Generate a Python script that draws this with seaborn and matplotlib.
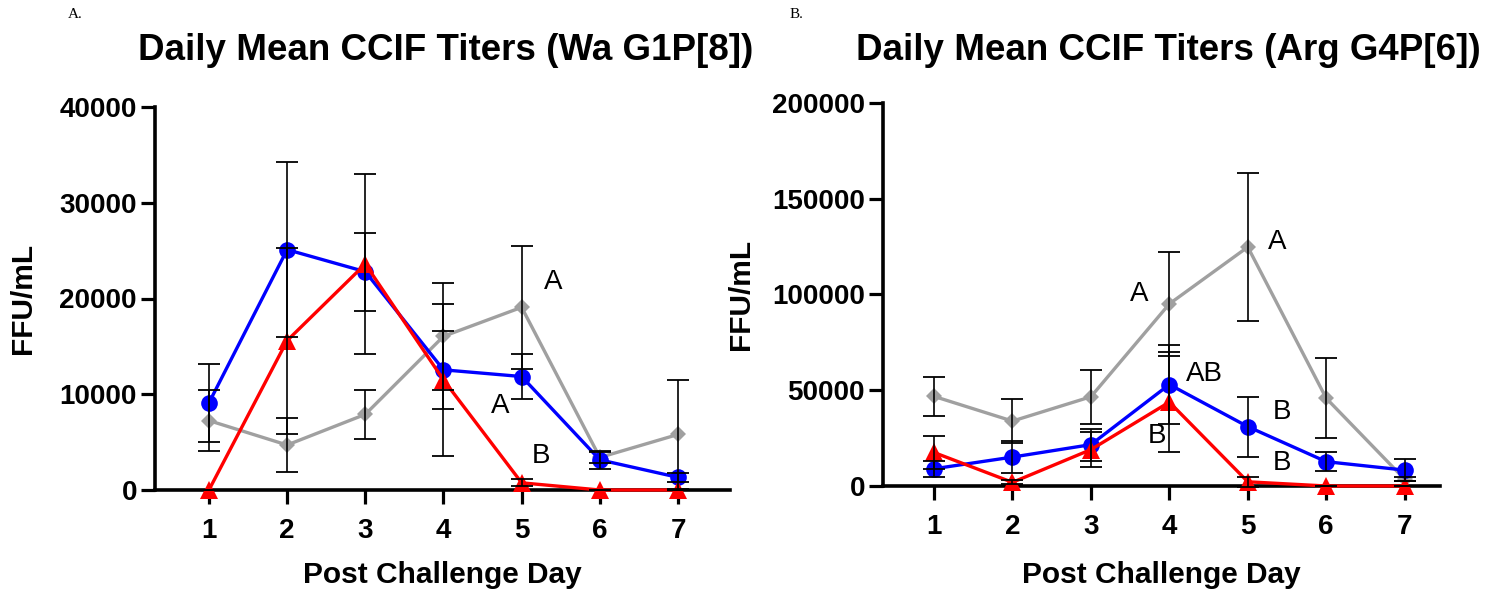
import matplotlib
matplotlib.use("Agg")
import matplotlib.pyplot as plt
import pandas as pd
import seaborn as sns

# ---- data -------------------------------------------------------------
days = [1, 2, 3, 4, 5, 6, 7]

# Wa G1P[8]
wa_circle_mean = [9100, 25100, 22800, 12550, 11850, 3150, 1320]
wa_circle_sem = [4100, 9150, 4070, 4090, 2340, 950, 500]
wa_triangle_mean = [0, 15600, 23600, 11500, 750, 0, 0]
wa_triangle_sem = [0, 9700, 9440, 7920, 350, 0, 0]
wa_diamond_mean = [7250, 4700, 7900, 16050, 19080, 3400, 5800]
wa_diamond_sem = [3170, 2800, 2570, 5600, 6440, 600, 5700]

# Arg G4P[6]
arg_circle_mean = [9000, 15100, 21600, 53000, 31000, 12700, 8300]
arg_circle_sem = [4200, 8500, 8400, 20500, 15700, 4800, 5600]
arg_triangle_mean = [17500, 1900, 19000, 43800, 2200, 0, 0]
arg_triangle_sem = [8500, 1000, 9000, 26000, 2700, 0, 0]
arg_diamond_mean = [46800, 33900, 46600, 95100, 124800, 45800, 3500]
arg_diamond_sem = [10300, 11500, 14200, 27200, 38500, 20900, 1000]

x_ticks = [1, 2, 3, 4, 5, 6, 7]
wa_y_ticks = [0, 10000, 20000, 30000, 40000]
arg_y_ticks = [0, 50000, 100000, 150000, 200000]

wa_title = "Daily Mean CCIF Titers (Wa G1P[8])"
arg_title = "Daily Mean CCIF Titers (Arg G4P[6])"
x_label = "Post Challenge Day"
y_label = "FFU/mL"

# significance letters: (day position, titer, letter)
wa_letters = [(5.40, 21700, "A"), (4.72, 8800, "A"), (5.25, 3500, "B")]
arg_letters = [(5.38, 127400, "A"), (3.61, 100400, "A"), (4.45, 58500, "AB"),
               (3.84, 26100, "B"), (5.43, 38600, "B"), (5.43, 12000, "B")]

# ---- style ------------------------------------------------------------
sns.set_theme(style="ticks")
plt.rcParams["font.family"] = ["Liberation Sans", "DejaVu Sans"]
plt.rcParams["font.weight"] = "bold"
plt.rcParams["axes.labelweight"] = "bold"
for key in ("text.color", "axes.labelcolor", "xtick.color", "ytick.color",
            "axes.edgecolor"):
    plt.rcParams[key] = "black"

GRAY = "#a0a0a0"
BLUE = "#0000ff"
RED = "#ff0000"

fig = plt.figure(figsize=(15.05, 5.96), dpi=100)
ax_wa = fig.add_axes([155 / 1505, 106 / 596, 575 / 1505, 383 / 596])
ax_arg = fig.add_axes([883 / 1505, 110 / 596, 557 / 1505, 383 / 596])


def draw_panel(ax, series, y_ticks, xlim, letters, ylabel_x, xlabel_y):
    # gray diamonds first, then blue circles, then red triangles on top
    for mean, sem, color, marker, msize in series:
        sns.lineplot(x=days, y=mean, ax=ax, color=color, marker=marker,
                     markersize=msize, markeredgewidth=0, linewidth=2.4,
                     clip_on=False, zorder=3, legend=False)
    for mean, sem, color, marker, msize in series:
        ax.errorbar(days, mean, yerr=sem, fmt="none", ecolor="black",
                    elinewidth=1.2, capsize=8, capthick=1.3, zorder=4,
                    clip_on=False)
    ax.set_xlim(*xlim)
    ax.set_ylim(y_ticks[0], y_ticks[-1])
    ax.set_xticks(x_ticks)
    ax.set_xticklabels([str(d) for d in x_ticks])
    ax.set_yticks(y_ticks)
    ax.set_yticklabels([str(v) for v in y_ticks])
    sns.despine(ax=ax)
    for side in ("left", "bottom"):
        ax.spines[side].set_linewidth(2.6)
        ax.spines[side].set_color("black")
    ax.tick_params(axis="both", direction="out", length=10, width=2.3,
                   color="black", labelsize=20, labelcolor="black")
    ax.tick_params(axis="x", pad=10)
    ax.tick_params(axis="y", pad=3)
    ax.set_xlabel(x_label, fontsize=21.5, fontweight="bold", color="black")
    ax.set_ylabel(y_label, fontsize=21.5, fontweight="bold", color="black")
    ax.xaxis.set_label_coords(0.5, xlabel_y)
    ax.yaxis.set_label_coords(ylabel_x, 0.5)
    for x, y, s in letters:
        ax.text(x, y, s, fontsize=20, fontweight="normal", color="black",
                ha="center", va="center", zorder=5)


draw_panel(ax_wa,
           [(wa_diamond_mean, wa_diamond_sem, GRAY, "D", 8.5),
            (wa_circle_mean, wa_circle_sem, BLUE, "o", 12),
            (wa_triangle_mean, wa_triangle_sem, RED, "^", 13)],
           wa_y_ticks, (0.31, 7.665), wa_letters, -0.205, -0.185)
draw_panel(ax_arg,
           [(arg_diamond_mean, arg_diamond_sem, GRAY, "D", 8.5),
            (arg_circle_mean, arg_circle_sem, BLUE, "o", 12),
            (arg_triangle_mean, arg_triangle_sem, RED, "^", 13)],
           arg_y_ticks, (0.35, 7.45), arg_letters, -0.23, -0.195)

fig.text(446 / 1505, 1 - 60 / 596, wa_title, ha="center", va="baseline",
         fontsize=26.5, fontweight="bold")
fig.text(1168 / 1505, 1 - 60 / 596, arg_title, ha="center", va="baseline",
         fontsize=26.5, fontweight="bold")
fig.text(68 / 1505, 1 - 18 / 596, "A.", ha="left", va="baseline",
         fontsize=11, fontweight="normal", family="Liberation Serif")
fig.text(790 / 1505, 1 - 18 / 596, "B.", ha="left", va="baseline",
         fontsize=11, fontweight="normal", family="Liberation Serif")

fig.savefig("out.png", dpi=100, facecolor="white")
